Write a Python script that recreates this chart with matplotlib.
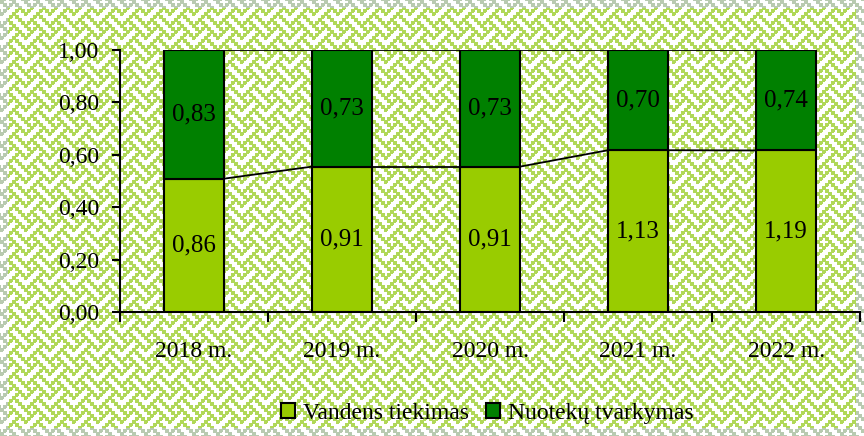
import numpy as np
import matplotlib
matplotlib.use('Agg')
import matplotlib.pyplot as plt
from matplotlib.patches import Patch

years = ['2018 m.', '2019 m.', '2020 m.', '2021 m.', '2022 m.']
vandens = [0.86, 0.91, 0.91, 1.13, 1.19]
nuoteku = [0.83, 0.73, 0.73, 0.70, 0.74]
yticks = [0.0, 0.2, 0.4, 0.6, 0.8, 1.0]

light = '#99CC00'
dark = '#008000'

plt.rcParams['font.family'] = ['Liberation Serif', 'DejaVu Serif']
plt.rcParams['font.size'] = 17


def fmt(v):
    return f'{v:.2f}'.replace('.', ',')


def background(h, w):
    """
    Fonas - pintas "weave" raštas kaip Excel'yje
    """
    bits = [0x88, 0x54, 0x22, 0x45, 0x88, 0x14, 0x22, 0x51]
    tile = np.array([[(b >> (7 - k)) & 1 for k in range(8)] for b in bits], dtype=bool)
    tile = np.kron(tile, np.ones((3, 3), dtype=bool))
    # paryškinam linijas
    tile = tile | np.roll(tile, 1, axis=1) | np.roll(tile, 1, axis=0)
    mask = np.tile(tile, (h // 24 + 1, w // 24 + 1))[:h, :w]
    img = np.ones((h, w, 3))
    edge = np.zeros((h, w), dtype=bool)
    edge[:8, :] = True
    edge[-8:, :] = True
    edge[:, :8] = True
    edge[:, -8:] = True
    img[mask & ~edge] = matplotlib.colors.to_rgb('#b0d858')
    img[mask & edge] = matplotlib.colors.to_rgb('#b8cab0')
    return img


fig = plt.figure(figsize=(8.64, 4.36), dpi=100)
fig.figimage(background(436, 864), xo=0, yo=0, origin='upper', zorder=-10)

ax = fig.add_axes([120 / 864, 124 / 436, 740 / 864, 262 / 436])
ax.set_zorder(5)
ax.patch.set_visible(False)

total = np.array(vandens) + np.array(nuoteku)
low = np.array(vandens) / total
high = np.array(nuoteku) / total
x = np.arange(len(years))
w = 60 / 148

ax.bar(x, low, width=w, color=light, edgecolor='black', linewidth=1.5, zorder=3)
ax.bar(x, high, width=w, bottom=low, color=dark, edgecolor='black', linewidth=1.5, zorder=3)

# jungiamosios linijos tarp stulpelių
for i in range(len(x) - 1):
    ax.plot([x[i] + w / 2, x[i + 1] - w / 2], [low[i], low[i + 1]], color='black', lw=1.3, zorder=2)
    ax.plot([x[i] + w / 2, x[i + 1] - w / 2], [1, 1], color='black', lw=1.3, zorder=2)

for i in range(len(x)):
    ax.text(x[i], low[i] / 2, fmt(vandens[i]), ha='center', va='center', fontsize=18, zorder=4)
    ax.text(x[i], low[i] + high[i] / 2, fmt(nuoteku[i]), ha='center', va='center', fontsize=18, zorder=4)

ax.set_xlim(-0.5, len(x) - 0.5)
ax.set_ylim(0, 1)
ax.set_yticks(yticks)
ax.set_yticklabels([fmt(v) for v in yticks])
ax.set_xticks(x)
ax.set_xticklabels(years)
ax.set_xticks(np.arange(len(x) + 1) - 0.5, minor=True)
ax.tick_params(axis='x', which='major', length=0, pad=21)
ax.tick_params(axis='x', which='minor', length=7, width=1.5, direction='out')
ax.tick_params(axis='y', length=6, width=1.5, direction='out', pad=9)
for s in ['top', 'right']:
    ax.spines[s].set_visible(False)
for s in ['left', 'bottom']:
    ax.spines[s].set_linewidth(1.5)

handles = [Patch(facecolor=light, edgecolor='black', linewidth=1.5, label='Vandens tiekimas'),
           Patch(facecolor=dark, edgecolor='black', linewidth=1.5, label='Nuotekų tvarkymas')]
fig.legend(handles=handles, loc='center', bbox_to_anchor=(0.564, 0.052), ncol=2, frameon=False,
           handlelength=0.6, handleheight=0.6, handletextpad=0.35, columnspacing=0.7)

fig.savefig('out.png', dpi=100)
